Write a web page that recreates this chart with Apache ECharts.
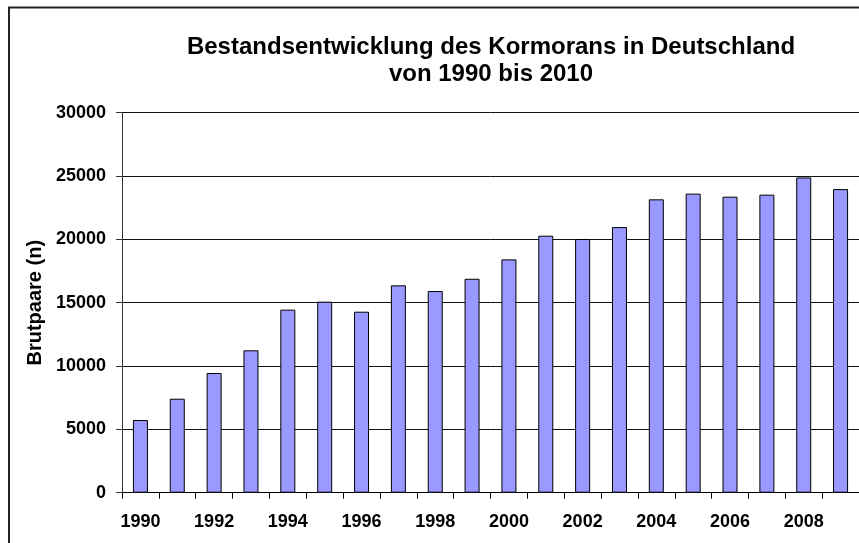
<!DOCTYPE html>
<html>
<head>
<meta charset="utf-8">
<script src="https://cdn.jsdelivr.net/npm/echarts@6/dist/echarts.min.js"></script>
<style>
html,body{margin:0;padding:0;background:#fff;}
#chart{width:859px;height:543px;}
</style>
</head>
<body>
<div id="chart"></div>
<script>
const years = ['1990','1991','1992','1993','1994','1995','1996','1997','1998','1999','2000','2001','2002','2003','2004','2005','2006','2007','2008','2009'];
const brutpaare = [5740, 7420, 9450, 11240, 14450, 15080, 14290, 16370, 15920, 16890, 18420, 20290, 20030, 20970, 23160, 23610, 23370, 23530, 24890, 23970];
const titleText = 'Bestandsentwicklung des Kormorans in Deutschland\nvon 1990 bis 2010';
const yName = 'Brutpaare (n)';

const FONT = "'Liberation Sans', Arial, sans-serif";
const chart = echarts.init(document.getElementById('chart'), null, {renderer:'canvas'});
chart.setOption({
  animation: false,
  backgroundColor: '#fff',
  title: {
    text: titleText,
    left: 486,
    top: 29,
    textAlign: 'center',
    textStyle: {fontFamily: FONT, fontSize: 24, fontWeight: 'bold', color: '#000', lineHeight: 27, align: 'center'}
  },
  graphic: [{
    type: 'rect',
    shape: {x: 9, y: 7.5, width: 1000, height: 700},
    style: {fill: 'none', stroke: '#222', lineWidth: 2},
    silent: true,
    z: 100
  }],
  grid: {left: 122, right: 0, top: 112.7, bottom: 50.3, containLabel: false},
  xAxis: {
    type: 'category',
    data: years,
    boundaryGap: true,
    axisLine: {show: true, lineStyle: {color: '#000', width: 1}},
    axisTick: {show: true, length: 6, alignWithLabel: false, interval: 0, lineStyle: {color: '#000'}},
    axisLabel: {interval: 1, margin: 20, fontFamily: FONT, fontSize: 18, fontWeight: 'bold', color: '#000'},
    splitLine: {show: false}
  },
  yAxis: {
    type: 'value',
    min: 0,
    max: 30000,
    interval: 5000,
    name: yName,
    nameLocation: 'middle',
    nameGap: 77,
    nameRotate: 90,
    nameTextStyle: {fontFamily: FONT, fontSize: 20, fontWeight: 'bold', color: '#000'},
    axisLine: {show: true, lineStyle: {color: '#333', width: 1}},
    axisTick: {show: true, length: 6, lineStyle: {color: '#333'}},
    axisLabel: {margin: 16, fontFamily: FONT, fontSize: 18, fontWeight: 'bold', color: '#000',
      formatter: function (v) { return String(v); }},
    splitLine: {show: true, lineStyle: {color: '#111', width: 1}}
  },
  series: [{
    type: 'bar',
    data: brutpaare,
    barWidth: 15,
    itemStyle: {color: '#9999FF', borderColor: '#000', borderWidth: 1}
  }]
});
</script>
</body>
</html>
